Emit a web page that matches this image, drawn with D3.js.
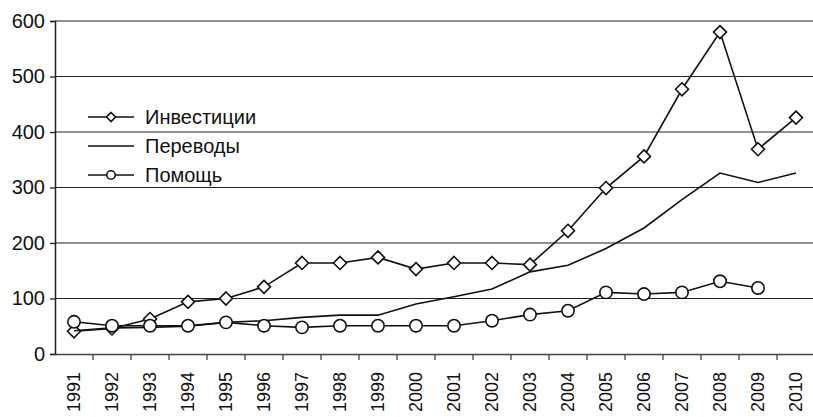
<!DOCTYPE html>
<html>
<head>
<meta charset="utf-8">
<script src="https://cdn.jsdelivr.net/npm/d3@7"></script>
<style>
  body { margin: 0; background: #fff; }
  text { font-family: "Liberation Sans", Arial, sans-serif; fill: #111; }
</style>
</head>
<body>
<svg id="chart" width="813" height="417"></svg>
<script>
// values
const years = ["1991","1992","1993","1994","1995","1996","1997","1998","1999","2000",
  "2001","2002","2003","2004","2005","2006","2007","2008","2009","2010"]
const investments = [41, 46, 63, 94, 100, 121, 164, 164, 174, 153, 164, 164, 161, 222, 299, 356, 477, 580, 369, 426]
const transfers = [42, 47, 48, 50, 57, 60, 66, 70, 70, 90, 103, 117, 148, 160, 190, 227, 278, 326, 309, 326]
const aid = [58, 51, 51, 51, 57, 51, 48, 51, 51, 51, 51, 60, 71, 78, 111, 108, 111, 131, 119, null]
const yTicks = [0, 100, 200, 300, 400, 500, 600]

const svg = d3.select("#chart")
const margin = { left: 55, right: -2, top: 21, bottom: 63 }
const width = 813 - margin.left - margin.right
const height = 417 - margin.top - margin.bottom

const g = svg.append("g").attr("transform", `translate(${margin.left},${margin.top})`)

const x = d3.scaleBand().domain(years).range([0, width])
const y = d3.scaleLinear().domain([0, 600]).range([height, 0])
const cx = d => x(d) + x.bandwidth() / 2

// gridlines
g.selectAll(".grid").data(yTicks.slice(1)).join("line")
  .attr("x1", 0).attr("x2", width)
  .attr("y1", d => y(d)).attr("y2", d => y(d))
  .attr("stroke", "#222").attr("stroke-width", 1.2)

// y axis
const yAxis = g.append("g").call(d3.axisLeft(y).tickValues(yTicks).tickSize(5).tickPadding(5).tickFormat(d3.format("d")))
yAxis.select(".domain").attr("stroke", "#222").attr("stroke-width", 1.5)
yAxis.selectAll(".tick line").attr("stroke", "#222").attr("stroke-width", 1.3)
yAxis.selectAll("text").attr("font-size", 20).attr("fill", "#111")

// x axis
const xAxis = g.append("g").attr("transform", `translate(0,${height})`)
  .call(d3.axisBottom(x).tickSize(0).tickFormat(d => d))
xAxis.select(".domain").attr("stroke", "#444").attr("stroke-width", 1.5)
xAxis.selectAll(".tick text")
  .attr("font-size", 18)
  .attr("transform", "rotate(-90)")
  .attr("text-anchor", "end")
  .attr("dy", "0.35em")
  .attr("x", -18).attr("y", 0)
// tick marks between bands
g.selectAll(".xtick").data(years.slice(0, -1)).join("line")
  .attr("x1", d => x(d) + x.bandwidth()).attr("x2", d => x(d) + x.bandwidth())
  .attr("y1", height).attr("y2", height + 6)
  .attr("stroke", "#444").attr("stroke-width", 1.3)

const line = d3.line()
  .defined(d => d[1] != null)
  .x(d => cx(d[0]))
  .y(d => y(d[1]))

const series = [
  { name: "Инвестиции", values: investments, marker: "diamond" },
  { name: "Переводы", values: transfers, marker: null },
  { name: "Помощь", values: aid, marker: "circle" }
]

const drawMarker = (sel, type, s) => {
  if (type === "diamond") {
    sel.append("path")
      .attr("d", `M0,${-s}L${s},0L0,${s}L${-s},0Z`)
      .attr("fill", "#fff").attr("stroke", "#111").attr("stroke-width", 1.6)
  } else if (type === "circle") {
    sel.append("circle").attr("r", s * 0.95)
      .attr("fill", "#fff").attr("stroke", "#111").attr("stroke-width", 1.6)
  }
}

series.forEach(s => {
  const pts = years.map((yr, i) => [yr, s.values[i]])
  g.append("path").datum(pts)
    .attr("d", line)
    .attr("fill", "none").attr("stroke", "#111").attr("stroke-width", 1.6)
  if (s.marker) {
    pts.filter(p => p[1] != null).forEach(p => {
      const m = g.append("g").attr("transform", `translate(${cx(p[0])},${y(p[1])})`)
      drawMarker(m, s.marker, 6.5)
    })
  }
})

// legend
const legend = svg.append("g").attr("transform", "translate(88,117)")
series.forEach((s, i) => {
  const row = legend.append("g").attr("transform", `translate(0,${i * 29})`)
  row.append("line").attr("x1", 0).attr("x2", 46).attr("y1", 0).attr("y2", 0)
    .attr("stroke", "#111").attr("stroke-width", 1.4)
  const m = row.append("g").attr("transform", "translate(23,0)")
  drawMarker(m, s.marker, 4.5)
  row.append("text").attr("x", 57).attr("y", 0).attr("dy", "0.35em")
    .attr("font-size", 20).text(s.name)
})
</script>
</body>
</html>
